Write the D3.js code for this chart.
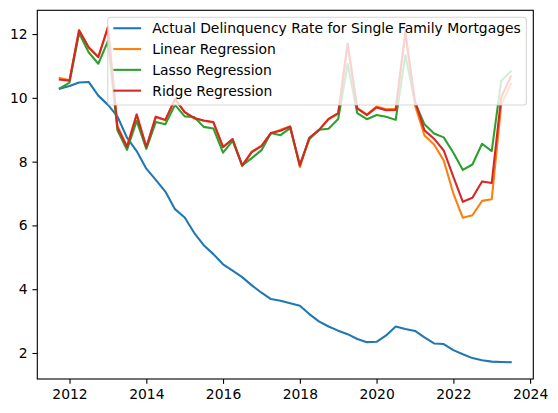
<!DOCTYPE html>
<html>
<head>
<meta charset="utf-8">
<script src="https://cdn.jsdelivr.net/npm/d3@7"></script>
<style>
  body { margin: 0; background: #fff; }
  svg { font-family: "DejaVu Sans", sans-serif; }
</style>
</head>
<body>
<svg id="chart"></svg>
<script>
// Data (quarterly)
const quarters = [
  "2011-10-01", "2012-01-01", "2012-04-01", "2012-07-01", "2012-10-01",
  "2013-01-01", "2013-04-01", "2013-07-01", "2013-10-01",
  "2014-01-01", "2014-04-01", "2014-07-01", "2014-10-01",
  "2015-01-01", "2015-04-01", "2015-07-01", "2015-10-01",
  "2016-01-01", "2016-04-01", "2016-07-01", "2016-10-01",
  "2017-01-01", "2017-04-01", "2017-07-01", "2017-10-01",
  "2018-01-01", "2018-04-01", "2018-07-01", "2018-10-01",
  "2019-01-01", "2019-04-01", "2019-07-01", "2019-10-01",
  "2020-01-01", "2020-04-01", "2020-07-01", "2020-10-01",
  "2021-01-01", "2021-04-01", "2021-07-01", "2021-10-01",
  "2022-01-01", "2022-04-01", "2022-07-01", "2022-10-01",
  "2023-01-01", "2023-04-01", "2023-07-01"
];
const actual = [
  10.29, 10.37, 10.48, 10.50, 10.07, 9.78, 9.42, 8.75, 8.33, 7.78, 7.43, 7.06,
  6.51, 6.25, 5.77, 5.38, 5.10, 4.78, 4.58, 4.38, 4.12, 3.89, 3.69, 3.64,
  3.56, 3.48, 3.22, 2.99, 2.83, 2.70, 2.59, 2.44, 2.34, 2.35, 2.55, 2.83,
  2.75, 2.69, 2.49, 2.30, 2.28, 2.09, 1.96, 1.84, 1.77, 1.73, 1.72, 1.71
];
const linear = [
  10.62, 10.55, 12.12, 11.58, 11.28, 12.22, 9.12, 8.48, 9.48, 8.44, 9.40, 9.30,
  9.96, 9.55, 9.35, 9.28, 9.23, 8.45, 8.70, 7.86, 8.32, 8.50, 8.88, 9.00,
  9.10, 7.83, 8.74, 8.98, 9.33, 9.50, 11.70, 9.68, 9.48, 9.73, 9.64, 9.66,
  12.05, 9.76, 8.82, 8.54, 8.04, 7.00, 6.24, 6.32, 6.77, 6.82, 9.78, 10.45
];
const lasso = [
  10.30, 10.48, 12.03, 11.43, 11.07, 11.78, 8.98, 8.37, 9.28, 8.40, 9.24, 9.17,
  9.78, 9.42, 9.40, 9.09, 9.04, 8.28, 8.65, 7.88, 8.11, 8.36, 8.90, 8.83,
  9.05, 7.90, 8.70, 9.00, 9.03, 9.34, 11.06, 9.52, 9.33, 9.46, 9.41, 9.31,
  11.34, 9.85, 9.17, 8.88, 8.76, 8.28, 7.74, 7.91, 8.56, 8.33, 10.54, 10.83
];
const ridge = [
  10.57, 10.54, 12.12, 11.59, 11.28, 12.21, 9.07, 8.46, 9.48, 8.46, 9.41, 9.31,
  9.96, 9.55, 9.37, 9.29, 9.24, 8.46, 8.71, 7.88, 8.30, 8.49, 8.90, 8.97,
  9.10, 7.88, 8.75, 8.99, 9.34, 9.52, 11.69, 9.67, 9.46, 9.70, 9.61, 9.62,
  12.05, 9.90, 8.98, 8.72, 8.35, 7.52, 6.74, 6.87, 7.38, 7.33, 10.02, 10.67
];
const seriesNames = [
  "Actual Delinquency Rate for Single Family Mortgages",
  "Linear Regression",
  "Lasso Regression",
  "Ridge Regression"
];
const seriesValues = [actual, linear, lasso, ridge];
const colors = ["#1f77b4", "#ff7f0e", "#2ca02c", "#d62728"];
const yTicks = [2, 4, 6, 8, 10, 12];

// Layout (matplotlib-like)
const width = 558, height = 413;
const margin = {top: 10.3, right: 24.7, bottom: 34, left: 37.3};
const chartWidth = width - margin.left - margin.right;
const chartHeight = height - margin.top - margin.bottom;
const fontSize = 13.9;
const tickLen = 4.86;

const parse = d3.timeParse("%Y-%m-%d");
const dates = quarters.map(parse);

const svg = d3.select("#chart")
  .attr("width", width)
  .attr("height", height);

// scales with 5% padding, like matplotlib autoscale
const xExt = d3.extent(dates);
const xPad = (xExt[1] - xExt[0]) * 0.05;
const xScale = d3.scaleTime()
  .domain([new Date(+xExt[0] - xPad), new Date(+xExt[1] + xPad)])
  .range([0, chartWidth]);

const allVals = seriesValues.flat();
const yMin = d3.min(allVals), yMax = d3.max(allVals);
const yPad = (yMax - yMin) * 0.05;
const yScale = d3.scaleLinear()
  .domain([yMin - yPad, yMax + yPad])
  .range([chartHeight, 0]);

const g = svg.append("g")
  .attr("transform", `translate(${margin.left}, ${margin.top})`);

// Lines
const line = d3.line()
  .x((d, i) => xScale(dates[i]))
  .y(d => yScale(d));

g.selectAll("path.series")
  .data(seriesValues)
  .join("path")
  .attr("class", "series")
  .attr("d", d => line(d))
  .attr("fill", "none")
  .attr("stroke", (d, i) => colors[i])
  .attr("stroke-width", 2.08)
  .attr("stroke-linejoin", "round")
  .attr("stroke-linecap", "square");

// Axes
const xAxis = g.append("g")
  .attr("transform", `translate(0, ${chartHeight})`)
  .call(d3.axisBottom(xScale)
    .ticks(d3.timeYear.every(2))
    .tickFormat(d3.timeFormat("%Y"))
    .tickSizeInner(tickLen)
    .tickSizeOuter(0)
    .tickPadding(4.86));

const yAxis = g.append("g")
  .call(d3.axisLeft(yScale)
    .tickValues(yTicks)
    .tickSizeInner(tickLen)
    .tickSizeOuter(0)
    .tickPadding(4.86));

[xAxis, yAxis].forEach(ax => {
  ax.select(".domain").remove();
  ax.selectAll(".tick line").attr("stroke", "#000").attr("stroke-width", 1.1);
  ax.selectAll(".tick text")
    .attr("fill", "#000")
    .attr("font-size", fontSize)
    .attr("font-family", "DejaVu Sans");
});

// Frame
g.append("rect")
  .attr("x", 0)
  .attr("y", 0)
  .attr("width", chartWidth)
  .attr("height", chartHeight)
  .attr("fill", "none")
  .attr("stroke", "#000")
  .attr("stroke-width", 1.1);

// Legend (upper right)
const legend = g.append("g");
const legendBox = legend.append("rect");
const rowStep = 20.8;
const handleLen = 2.0 * fontSize;
const textGap = 0.8 * fontSize;
const pad = 0.4 * fontSize;
const boxH = 87.7;
const firstRow = 11; // distance from box top to first row centre

const items = legend.selectAll("g.item")
  .data(seriesNames)
  .join("g")
  .attr("class", "item")
  .attr("transform", (d, i) => `translate(${pad}, ${firstRow + i * rowStep})`);

items.append("line")
  .attr("x1", 0)
  .attr("x2", handleLen)
  .attr("y1", 0)
  .attr("y2", 0)
  .attr("stroke", (d, i) => colors[i])
  .attr("stroke-width", 2.08);

items.append("text")
  .attr("x", handleLen + textGap)
  .attr("y", 0)
  .attr("dy", "0.35em")
  .attr("font-size", fontSize)
  .attr("fill", "#000")
  .text(d => d);

var textWidth = d3.max(items.selectAll("text").nodes(), n => n.getComputedTextLength());
var boxW = pad * 2 + handleLen + textGap + textWidth;
var boxRight = chartWidth - 0.5 * fontSize;
var boxTop = 0.5 * fontSize;

legendBox
  .attr("x", 0)
  .attr("y", 0)
  .attr("width", boxW)
  .attr("height", boxH)
  .attr("rx", 2.8)
  .attr("fill", "#fff")
  .attr("fill-opacity", 0.8)
  .attr("stroke", "#cccccc")
  .attr("stroke-opacity", 0.8)
  .attr("stroke-width", 1.1);

legend.attr("transform", `translate(${boxRight - boxW}, ${boxTop})`);
</script>
</body>
</html>
